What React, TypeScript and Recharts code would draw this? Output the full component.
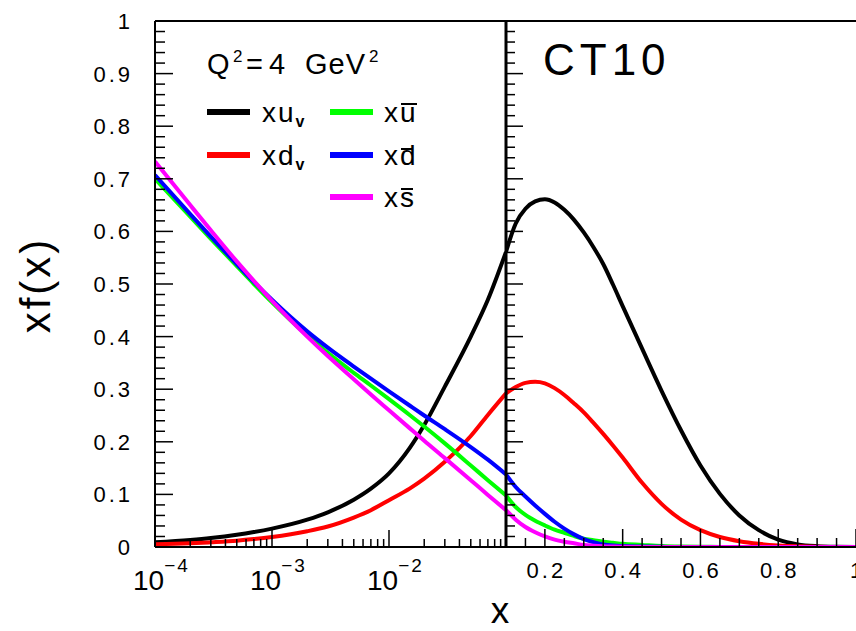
import React from 'react';
import { LineChart, Line, XAxis, YAxis, ReferenceLine, Legend } from 'recharts';

// ---- data: left panel (log x) ----
const xLow = [1e-4, 2e-4, 3e-4, 5e-4, 7e-4, 1e-3, 2e-3, 3e-3, 5e-3, 7e-3, 1e-2, 1.5e-2, 2e-2, 3e-2, 5e-2, 7e-2, 0.1];
const uvLow = [0.009, 0.0135, 0.0171, 0.0232, 0.0284, 0.035, 0.052, 0.066, 0.090, 0.111, 0.140, 0.188, 0.232, 0.305, 0.400, 0.470, 0.561];
const dvLow = [0.005, 0.007, 0.009, 0.012, 0.015, 0.019, 0.030, 0.039, 0.056, 0.070, 0.089, 0.111, 0.130, 0.162, 0.211, 0.251, 0.292];
const ubarLow = [0.700, 0.628, 0.586, 0.534, 0.500, 0.465, 0.402, 0.369, 0.331, 0.307, 0.281, 0.251, 0.229, 0.197, 0.155, 0.127, 0.098];
const dbarLow = [0.707, 0.633, 0.590, 0.538, 0.504, 0.470, 0.410, 0.379, 0.343, 0.320, 0.296, 0.269, 0.250, 0.224, 0.190, 0.166, 0.138];
const sbarLow = [0.733, 0.650, 0.602, 0.543, 0.506, 0.468, 0.400, 0.363, 0.319, 0.290, 0.260, 0.226, 0.202, 0.169, 0.127, 0.099, 0.070];

// ---- data: right panel (linear x) ----
const xHigh = [0.1, 0.125, 0.15, 0.175, 0.2, 0.225, 0.25, 0.275, 0.3, 0.325, 0.35, 0.375, 0.4, 0.45, 0.5, 0.55, 0.6, 0.65, 0.7, 0.75, 0.8, 0.85, 0.9, 0.95, 1.0];
const uvHigh = [0.561, 0.615, 0.643, 0.657, 0.661, 0.655, 0.641, 0.622, 0.598, 0.570, 0.538, 0.499, 0.458, 0.377, 0.297, 0.222, 0.155, 0.101, 0.060, 0.032, 0.014, 0.005, 0.0015, 0.0003, 0];
const dvHigh = [0.292, 0.304, 0.312, 0.314, 0.311, 0.302, 0.289, 0.273, 0.256, 0.236, 0.215, 0.193, 0.170, 0.122, 0.082, 0.052, 0.032, 0.019, 0.011, 0.006, 0.003, 0.0012, 0.0004, 0.0001, 0];
const ubarHigh = [0.098, 0.076, 0.061, 0.050, 0.041, 0.033, 0.027, 0.021, 0.016, 0.013, 0.010, 0.008, 0.006, 0.004, 0.002, 0.001, 0.0005, 0.0002, 0, 0, 0, 0, 0, 0, 0];
const dbarHigh = [0.138, 0.114, 0.096, 0.079, 0.063, 0.048, 0.035, 0.024, 0.015, 0.009, 0.005, 0.003, 0.002, 0.001, 0.0003, 0, 0, 0, 0, 0, 0, 0, 0, 0, 0];
const sbarHigh = [0.070, 0.052, 0.038, 0.028, 0.020, 0.014, 0.010, 0.007, 0.004, 0.0025, 0.0015, 0.0009, 0.0005, 0.0002, 0, 0, 0, 0, 0, 0, 0, 0, 0, 0, 0];

// ---- ticks ----
const yMajor = [0, 0.1, 0.2, 0.3, 0.4, 0.5, 0.6, 0.7, 0.8, 0.9, 1];
const yLabels = ['0', '0.1', '0.2', '0.3', '0.4', '0.5', '0.6', '0.7', '0.8', '0.9', '1'];
const yTicks = Array.from({ length: 51 }, (_, i) => i / 50);

const xLogMajor = [1e-4, 1e-3, 1e-2, 1e-1];
const xLogLabels = ['\u22124', '\u22123', '\u22122', ''];
const xLogTicks = [1e-4, 2e-4, 3e-4, 4e-4, 5e-4, 6e-4, 7e-4, 8e-4, 9e-4,
  1e-3, 2e-3, 3e-3, 4e-3, 5e-3, 6e-3, 7e-3, 8e-3, 9e-3,
  1e-2, 2e-2, 3e-2, 4e-2, 5e-2, 6e-2, 7e-2, 8e-2, 9e-2, 1e-1];

const xLinMajor = [0.2, 0.4, 0.6, 0.8, 1.0];
const xLinLabels = ['0.2', '0.4', '0.6', '0.8', '1'];
const xLinTicks = Array.from({ length: 18 }, (_, i) => 0.15 + i * 0.05);

const seriesKeys = ['uv', 'dv', 'ubar', 'dbar', 'sbar'];
const seriesColors = ['#000000', '#ff0000', '#00ff00', '#0000ff', '#ff00ff'];

const lowData = xLow.map((x, i) => ({ x, uv: uvLow[i], dv: dvLow[i], ubar: ubarLow[i], dbar: dbarLow[i], sbar: sbarLow[i] }));
const highData = xHigh.map((x, i) => ({ x, uv: uvHigh[i], dv: dvHigh[i], ubar: ubarHigh[i], dbar: dbarHigh[i], sbar: sbarHigh[i] }));

const FONT = "'Liberation Sans', Arial, Helvetica, sans-serif";

const near = (a: number, b: number) => Math.abs(a - b) < 1e-6;

const YTickLeft = (props: any) => {
  const { x, y, payload } = props;
  const idx = yMajor.findIndex((m) => near(m, payload.value));
  const major = idx >= 0;
  return (
    <g>
      <line x1={x} x2={x + (major ? 18 : 10)} y1={y} y2={y} stroke="#000" strokeWidth={1.5} />
      {major && (
        <text x={133} y={y + 8} textAnchor="end" fontSize={22} letterSpacing={3} fontFamily={FONT} fill="#000">
          {yLabels[idx]}
        </text>
      )}
    </g>
  );
};

const YTickRight = (props: any) => {
  const { x, y, payload } = props;
  const major = yMajor.some((m) => near(m, payload.value));
  return <line x1={x} x2={x + (major ? 17 : 9)} y1={y} y2={y} stroke="#000" strokeWidth={1.5} />;
};

const LogTick = (props: any) => {
  const { x, y, payload } = props;
  const v = payload.value;
  const idx = xLogMajor.findIndex((m) => Math.abs(Math.log10(m) - Math.log10(v)) < 1e-6);
  const major = idx >= 0;
  return (
    <g>
      <line x1={x} x2={x} y1={y} y2={y - (major ? 17 : 8)} stroke="#000" strokeWidth={1.5} />
      {major && xLogLabels[idx] !== '' && (
        <text x={x - 22} y={y + 43} fontSize={28} fontFamily={FONT} fill="#000">
          10
          <tspan dy={-18} fontSize={19} letterSpacing={2}>{xLogLabels[idx]}</tspan>
        </text>
      )}
    </g>
  );
};

const LinTick = (props: any) => {
  const { x, y, payload } = props;
  const idx = xLinMajor.findIndex((m) => near(m, payload.value));
  const major = idx >= 0;
  return (
    <g>
      <line x1={x} x2={x} y1={y} y2={y - (major ? 18 : 9)} stroke="#000" strokeWidth={1.5} />
      {major && (
        <text x={x + 1.5} y={y + 31} textAnchor="middle" fontSize={22} letterSpacing={3} fontFamily={FONT} fill="#000">
          {xLinLabels[idx]}
        </text>
      )}
    </g>
  );
};

const legendRows = [
  { key: 'uv', col: 0, row: 0, base: 'xu', sub: 'v', bar: false },
  { key: 'dv', col: 0, row: 1, base: 'xd', sub: 'v', bar: false },
  { key: 'ubar', col: 1, row: 0, base: 'u', sub: '', bar: true },
  { key: 'dbar', col: 1, row: 1, base: 'd', sub: '', bar: true },
  { key: 'sbar', col: 1, row: 2, base: 's', sub: '', bar: true },
];

const LegendContent = () => {
  const rowY = [112, 155, 197];
  const lineX = [207, 330];
  const textX = [262, 384];
  return (
    <svg width={506} height={240} style={{ display: 'block' }}>
      <g fontFamily={FONT} fill="#000">
        <text x={207} y={74} fontSize={29}>Q</text>
        <text x={233} y={62} fontSize={17}>2</text>
        <text x={246} y={74} fontSize={29} letterSpacing={6}>=4</text>
        <text x={305} y={74} fontSize={29} letterSpacing={1}>GeV</text>
        <text x={369} y={62} fontSize={17}>2</text>
        {legendRows.map((r) => {
          const color = seriesColors[seriesKeys.indexOf(r.key)];
          const cy = rowY[r.row];
          const lx = lineX[r.col];
          const tx = textX[r.col];
          return (
            <g key={r.key}>
              <line x1={lx} x2={lx + 43} y1={cy} y2={cy} stroke={color} strokeWidth={6} />
              {r.bar ? (
                <g>
                  <text x={tx} y={cy + 10} fontSize={28} letterSpacing={2}>x{r.base}</text>
                  <line
                    x1={tx + 17}
                    x2={tx + (r.base === 'u' ? 33 : 29)}
                    y1={r.base === 'd' ? cy - 6 : cy - 8}
                    y2={r.base === 'd' ? cy - 6 : cy - 8}
                    stroke="#000"
                    strokeWidth={2}
                  />
                </g>
              ) : (
                <text x={tx} y={cy + 10} fontSize={28} letterSpacing={2}>
                  {r.base}
                  <tspan dy={5} fontSize={16} fontWeight="bold">{r.sub}</tspan>
                </text>
              )}
            </g>
          );
        })}
      </g>
    </svg>
  );
};

export default function App() {
  return (
    <div style={{ position: 'absolute', left: 0, top: 0, width: 856, height: 631, background: '#fff', overflow: 'hidden' }}>
      <div style={{ position: 'absolute', left: 0, top: 0 }}>
        <LineChart width={506} height={631} data={lowData} margin={{ top: 21, right: 0, bottom: 0, left: 0 }}>
          <XAxis
            dataKey="x"
            type="number"
            scale="log"
            domain={[1e-4, 0.1]}
            allowDataOverflow
            ticks={xLogTicks}
            interval={0}
            tick={(p: any) => <LogTick {...p} />}
            tickSize={0}
            tickMargin={0}
            tickLine={false}
            axisLine={{ stroke: '#000', strokeWidth: 2 }}
            height={84}
          />
          <YAxis
            type="number"
            domain={[0, 1]}
            allowDataOverflow
            ticks={yTicks}
            interval={0}
            width={155}
            tick={(p: any) => <YTickLeft {...p} />}
            tickSize={0}
            tickMargin={0}
            tickLine={false}
            axisLine={{ stroke: '#000', strokeWidth: 2 }}
            label={() => (
              <text
                x={50}
                y={285}
                transform="rotate(-90 50 285)"
                textAnchor="middle"
                fontSize={42}
                letterSpacing={3}
                fontFamily={FONT}
                fill="#000"
              >
                xf(x)
              </text>
            )}
          />
          <ReferenceLine y={1} stroke="#000" strokeWidth={2} />
          <ReferenceLine x={0.1} stroke="#000" strokeWidth={2} />
          {seriesKeys.map((k, i) => (
            <Line
              key={k}
              type="monotone"
              dataKey={k}
              stroke={seriesColors[i]}
              strokeWidth={4}
              dot={false}
              activeDot={false}
              isAnimationActive={false}
            />
          ))}
          <Legend
            layout="horizontal"
            verticalAlign="middle"
            align="center"
            wrapperStyle={{ left: 0, top: 0, width: 506, height: 240 }}
            content={() => <LegendContent />}
          />
        </LineChart>
      </div>
      <div style={{ position: 'absolute', left: 446, top: 0 }}>
        <LineChart width={410} height={631} data={highData} margin={{ top: 21, right: 0, bottom: 0, left: 0 }}>
          <XAxis
            dataKey="x"
            type="number"
            domain={[0.1, 1]}
            allowDataOverflow
            ticks={xLinTicks}
            interval={0}
            tick={(p: any) => <LinTick {...p} />}
            tickSize={0}
            tickMargin={0}
            tickLine={false}
            axisLine={{ stroke: '#000', strokeWidth: 2 }}
            height={84}
            label={() => (
              <text x={54} y={623} textAnchor="middle" fontSize={37} fontFamily={FONT} fill="#000">x</text>
            )}
          />
          <YAxis
            type="number"
            domain={[0, 1]}
            allowDataOverflow
            ticks={yTicks}
            interval={0}
            width={60}
            tick={(p: any) => <YTickRight {...p} />}
            tickSize={0}
            tickMargin={0}
            tickLine={false}
            axisLine={{ stroke: '#000', strokeWidth: 3 }}
          />
          <ReferenceLine y={1} stroke="#000" strokeWidth={2} />
          {seriesKeys.map((k, i) => (
            <Line
              key={k}
              type="monotone"
              dataKey={k}
              stroke={seriesColors[i]}
              strokeWidth={4}
              dot={false}
              activeDot={false}
              isAnimationActive={false}
            />
          ))}
          <Legend
            layout="horizontal"
            verticalAlign="middle"
            align="center"
            wrapperStyle={{ left: 0, top: 0, width: 410, height: 90 }}
            content={() => (
              <svg width={410} height={90} style={{ display: 'block' }}>
                <text x={97} y={75} fontSize={44} letterSpacing={5} fontFamily={FONT} fill="#000">CT10</text>
              </svg>
            )}
          />
        </LineChart>
      </div>
    </div>
  );
}
